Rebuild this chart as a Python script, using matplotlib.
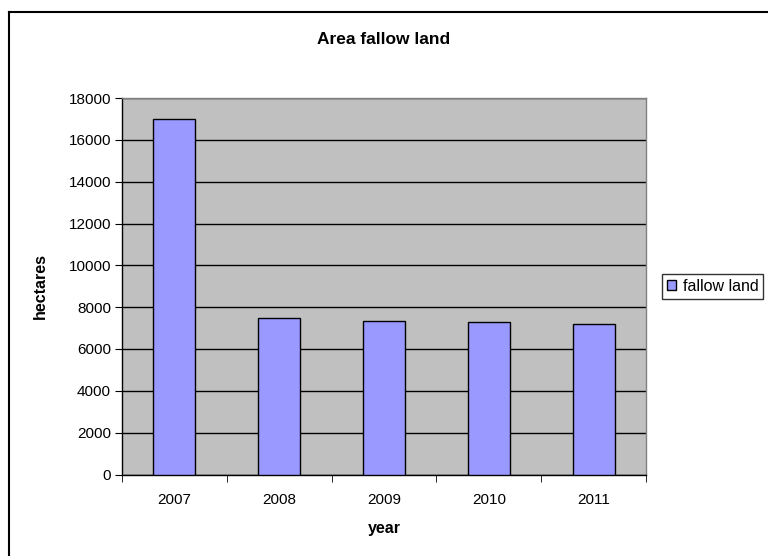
import numpy as np
import matplotlib
matplotlib.use("Agg")
from matplotlib import pyplot as plt
from matplotlib.lines import Line2D

years = ['2007', '2008', '2009', '2010', '2011']
fallow = [17000, 7500, 7350, 7270, 7200]
yticks = [0, 2000, 4000, 6000, 8000, 10000, 12000, 14000, 16000, 18000]

plt.rcParams['font.family'] = ['Liberation Sans', 'DejaVu Sans']

fig = plt.figure(figsize=(7.68, 5.56), dpi=100)
ax = fig.add_axes([122/768, 1-474.5/556, 524/768, (474.5-98)/556])

x = np.arange(len(years))
ax.bar(x, fallow, width=0.4, color='#9999ff', edgecolor='black', linewidth=1,
       label='fallow land', zorder=3)

ax.set_facecolor('#c0c0c0')
ax.set_xlim(-0.5, len(years)-0.5)
ax.set_ylim(0, 18000)
ax.set_yticks(yticks)
ax.set_yticklabels([str(v) for v in yticks], fontsize=11)
ax.yaxis.grid(True, color='black', linewidth=1, zorder=0)
ax.set_axisbelow(True)

ax.set_xticks(x)
ax.set_xticklabels(years, fontsize=11)
ax.set_xticks(np.arange(-0.5, len(years), 1.0), minor=True)
ax.tick_params(axis='x', which='major', length=0, pad=13)
ax.tick_params(axis='x', which='minor', length=5, direction='out', color='black')
ax.tick_params(axis='y', length=5, direction='out', color='black', pad=3)

for s in ['left', 'bottom']:
    ax.spines[s].set_color('black')
    ax.spines[s].set_linewidth(1)
for s in ['top', 'right']:
    ax.spines[s].set_color('#808080')
    ax.spines[s].set_linewidth(1)

ax.set_xlabel('year', fontsize=11.5, fontweight='bold', va='center')
ax.xaxis.set_label_coords(0.5, (474.5-529)/376.5)
ax.set_ylabel('hectares', fontsize=11.5, fontweight='bold', va='center')
ax.yaxis.set_label_coords((40-122)/524, 0.5)
fig.text(384/768, 1-40/556, 'Area fallow land', ha='center', va='center',
         fontsize=12.5, fontweight='bold')

leg = ax.legend(loc='center left', bbox_to_anchor=(662/768, 1-286.5/556),
                bbox_transform=fig.transFigure, fontsize=11.5, frameon=True,
                fancybox=False, edgecolor='black', handlelength=0.6,
                handleheight=0.6, handletextpad=0.4, borderpad=0.3,
                borderaxespad=0)
leg.get_frame().set_linewidth(1)

# outer chart border (clipped at right/bottom like the reference)
fig.add_artist(Line2D([9/768, 1], [1-12/556, 1-12/556], color='black', lw=1.5,
                      transform=fig.transFigure))
fig.add_artist(Line2D([9/768, 9/768], [0, 1-12/556], color='black', lw=1.5,
                      transform=fig.transFigure))

plt.savefig('out.png', dpi=100)
